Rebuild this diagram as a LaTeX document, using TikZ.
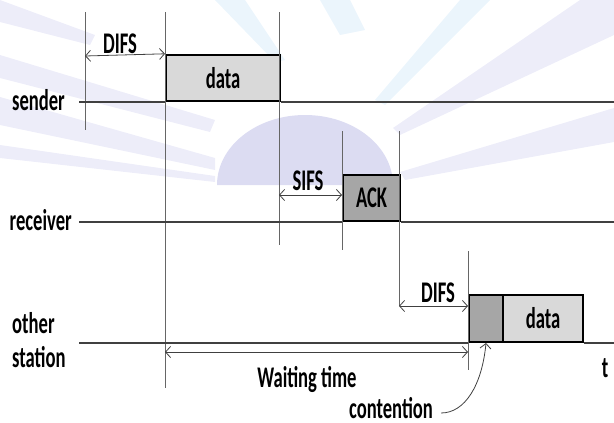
\documentclass[tikz,border=0pt]{standalone}
\usepackage{fontspec}
\setmainfont{Carlito}[FakeStretch=0.62]
\usetikzlibrary{arrows.meta}

\definecolor{lightbox}{HTML}{D9D9D9}
\definecolor{darkbox}{HTML}{A6A6A6}
\definecolor{wmdome}{RGB}{220,220,242}
\definecolor{wmlilac}{RGB}{237,237,249}
\definecolor{wmblue}{RGB}{235,245,252}

\begin{document}
\begin{tikzpicture}[x=1pt, y=-1pt,
	lbl/.style={font=\fontsize{30}{32}\selectfont\bfseries, inner sep=0pt},
	frame/.style={lbl, draw=black, line width=2.2pt, anchor=south west},
	tline/.style={draw=black!75, line width=1.2pt},
	vline/.style={draw=black!60, line width=0.8pt},
	span/.style={draw=black!75, line width=0.8pt, {Straight Barb[length=5pt,width=11pt]}-{Straight Barb[length=5pt,width=11pt]}}]
	\useasboundingbox (0,0) rectangle (614,423);
	% watermark
	\fill[wmlilac] (0,0) -- (0,22) -- (90,45) -- (95,35) -- cycle;
	\fill[wmlilac] (0,55) -- (0,78) -- (210,132) -- (215,120) -- cycle;
	\fill[wmlilac] (0,97) -- (0,125) -- (215,170) -- (215,158) -- cycle;
	\fill[wmlilac] (0,145) -- (0,158) -- (215,182) -- (215,176) -- cycle;
	\fill[wmblue] (215,0) -- (245,0) -- (285,60) -- (275,62) -- cycle;
	\fill[wmblue] (320,0) -- (350,0) -- (365,30) -- (340,35) -- cycle;
	\fill[wmblue] (460,0) -- (490,0) -- (385,105) -- (375,100) -- cycle;
	\fill[wmlilac] (580,0) -- (614,0) -- (614,35) -- (400,135) -- (393,128) -- cycle;
	\fill[wmlilac] (614,108) -- (614,142) -- (405,180) -- (400,172) -- cycle;
	\fill[wmdome] (217,185) arc[start angle=180, end angle=360, x radius=88, y radius=70] -- cycle;

	\node[lbl, anchor=east] (sender) at (65,100) {sender};
	\node[lbl, anchor=east] (receiver) at (72,220) {receiver};
	\node[lbl, anchor=west] (other) at (12,323) {other};
	\node[lbl, anchor=west] (station) at (12,357) {station};
	\node[lbl] (t) at (605,368) {t};

	\coordinate (s0) at (79,102);
	\coordinate (s1) at (614,102);
	\coordinate (r0) at (79,222);
	\coordinate (r1) at (614,222);
	\coordinate (o0) at (79,343);
	\coordinate (o1) at (614,343);

	\node[frame, fill=lightbox, minimum width=114pt, minimum height=46pt] (data1) at (165,102) {data};
	\node[frame, fill=darkbox, minimum width=57pt, minimum height=46pt] (ack) at (342,222) {ACK};
	\node[frame, fill=darkbox, minimum width=34pt, minimum height=47pt] (cont) at (468,343) {};
	\node[frame, fill=lightbox, minimum width=80pt, minimum height=47pt] (data2) at (502,343) {data};

	\coordinate (a0) at (85,12);
	\coordinate (a1) at (85,130);
	\coordinate (b0) at (165,12);
	\coordinate (b1) at (165,388);
	\coordinate (c0) at (279,12);
	\coordinate (c1) at (279,245);
	\coordinate (d0) at (342,131);
	\coordinate (d1) at (342,250);
	\coordinate (e0) at (399,131);
	\coordinate (e1) at (399,306);
	\coordinate (f0) at (468,251);
	\coordinate (f1) at (468,370);

	\draw[vline] (a0) -- (a1);
	\draw[vline] (b0) -- (b1);
	\draw[vline] (c0) -- (c1);
	\draw[vline] (d0) -- (d1);
	\draw[vline] (e0) -- (e1);
	\draw[vline] (f0) -- (f1);

	\draw[tline] (s0) -- (data1.south west);
	\draw[tline] (data1.south east) -- (s1);
	\draw[tline] (r0) -- (ack.south west);
	\draw[tline] (ack.south east) -- (r1);
	\draw[tline] (o0) -- (cont.south west);
	\draw[tline] (data2.south east) -- (o1);

	\draw[span] (85,56) -- (data1.north west);
	\draw[span] (279,195) -- (342,195);
	\draw[span] (e1) -- (468,306);
	\draw[span] (165,352) -- (468,352);

	\node[lbl] (difs1) at (120,44) {DIFS};
	\node[lbl] (sifs) at (308,181) {SIFS};
	\node[lbl] (difs2) at (438,293) {DIFS};
	\node[lbl] (wait) at (307,379) {Waiting time};
	\node[lbl] (contention) at (391,408) {contention};

	\draw[draw=black!75, line width=0.8pt, -{Straight Barb[length=5pt,width=11pt]}] ([xshift=8pt,yshift=-5pt]contention.east) .. controls (465,413) and (482,385) .. ([xshift=18pt]cont.south west);
\end{tikzpicture}
\end{document}
